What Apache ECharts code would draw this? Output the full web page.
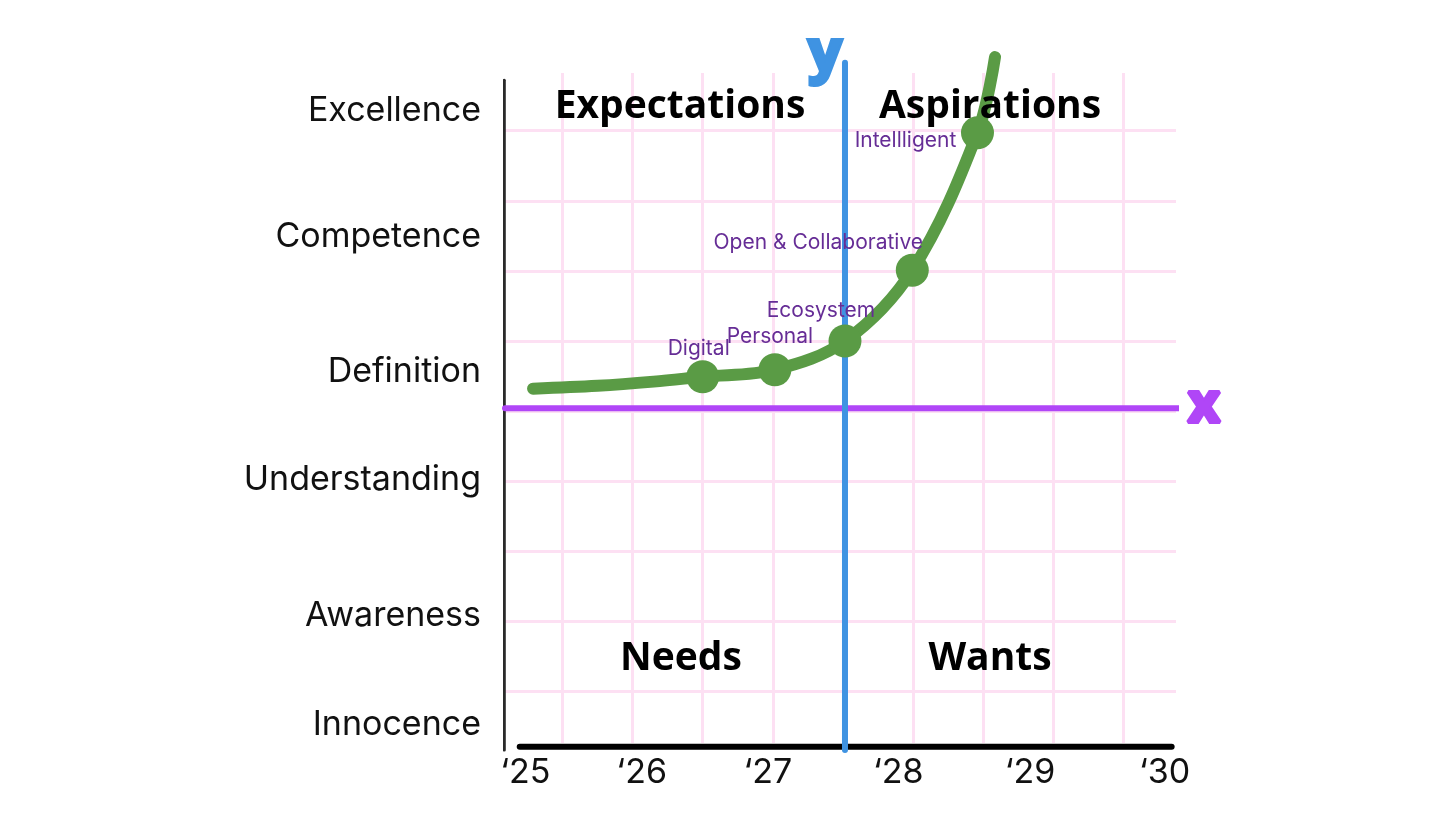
<!DOCTYPE html>
<html><head><meta charset="utf-8">
<script src="https://cdn.jsdelivr.net/npm/echarts@6/dist/echarts.min.js"></script>
<style>html,body{margin:0;padding:0;background:#fff}#c{width:1456px;height:819px}</style>
</head><body><div id="c"></div>
<script>
// Coordinate units: one pink grid cell = 1
const xTickLabels = ['\u201825','\u201826','\u201827','\u201828','\u201829','\u201830'];
const xTickValues = [0.47, 2.13, 3.93, 5.79, 7.67, 9.59];
const yTickLabels = ['Innocence','Awareness','Understanding','Definition','Competence','Excellence'];
const yTickValues = [0.53, 2.08, 4.02, 5.56, 7.48, 9.29];
const gridLinesX = [1,2,3,4,5,6,7,8,9];
const gridLinesY = [1,2,3,4,5,6,7,8,9];
const milestoneNames = ['Digital','Personal','Ecosystem','Open & Collaborative','Intellligent'];
const milestoneX = [3.0, 4.03, 5.03, 5.99, 6.92];
const milestoneY = [5.49, 5.59, 6.0, 7.01, 8.97];
const curveX = [0.58, 1.5, 2.3, 3.0, 4.03, 5.03, 5.99, 6.92, 7.17];
const curveY = [5.32, 5.36, 5.42, 5.49, 5.59, 6.0, 7.01, 8.97, 10.05];
const quadrantNames = ['Expectations','Aspirations','Needs','Wants'];
const originX = 5.03, originY = 5.04;
const xExtent = [0.18, 9.752];
const yExtent = [0.265, 9.823];
const verticalSpan = [0.165, 9.97];   // blue y-line
const horizontalSpan = [0.18, 9.91];  // purple x-line
const leftAxisSpan = [0.165, 9.72];
const bottomAxisSpan = [0.39, 9.69];
const leftAxisX = 0.17, bottomAxisY = 0.21;

// label layout (pixels, relative to marker centre)
const labelOffsets = [[-4,-28],[-5,-33],[-24,-30],[-94,-27],[-72,8]];

const FONT = 'Inter';
const chart = echarts.init(document.getElementById('c'), null, {renderer:'canvas'});

function nearestLabel(v, vals, labels){
  let bi = 0, bd = Infinity;
  vals.forEach((t,i)=>{const d=Math.abs(t-v); if(d<bd){bd=d;bi=i;}});
  return labels[bi];
}

const pink = '#fde0f3';
const lineSeries = (data, color, width, z) => ({
  type:'line', data, symbol:'none', clip:false, silent:true, z,
  lineStyle:{color, width, cap:'round'}
});

chart.setOption({
  animation:false,
  backgroundColor:'#ffffff',
  grid:{left:505, top:73, width:671, height:670},
  xAxis:{
    type:'value', min:xExtent[0], max:xExtent[1],
    axisLine:{show:false},
    axisTick:{show:false, customValues:gridLinesX},
    splitLine:{show:true, lineStyle:{color:pink, width:3}},
    axisLabel:{customValues:xTickValues, margin:13, color:'#111', fontSize:34, fontFamily:FONT,
      formatter:v=>nearestLabel(v, xTickValues, xTickLabels)}
  },
  yAxis:{
    type:'value', min:yExtent[0], max:yExtent[1],
    axisLine:{show:false},
    axisTick:{show:false, customValues:gridLinesY},
    splitLine:{show:true, lineStyle:{color:pink, width:3}},
    axisLabel:{customValues:yTickValues, margin:24, color:'#111', fontSize:34, fontFamily:FONT,
      formatter:v=>nearestLabel(v, yTickValues, yTickLabels)}
  },
  series:[
    lineSeries([[leftAxisX, leftAxisSpan[0]],[leftAxisX, leftAxisSpan[1]]], '#2a2a2a', 3, 2),
    lineSeries([[bottomAxisSpan[0], bottomAxisY],[bottomAxisSpan[1], bottomAxisY]], '#000000', 6, 2),
    lineSeries([[horizontalSpan[0], originY],[horizontalSpan[1], originY]], '#b046f7', 6, 3),
    lineSeries([[originX, verticalSpan[0]],[originX, verticalSpan[1]]], '#3f93e2', 6, 3),
    {
      type:'line', smooth:0.35, symbol:'none', clip:false, silent:true, z:5,
      data: curveX.map((x,i)=>[x, curveY[i]]),
      lineStyle:{color:'#5a9b45', width:12, cap:'round'}
    },
    {
      type:'scatter', z:6, clip:false, silent:true,
      symbolSize:33, itemStyle:{color:'#5a9b45', opacity:1},
      data: milestoneX.map((x,i)=>({
        value:[x, milestoneY[i]], name:milestoneNames[i],
        label:{offset:labelOffsets[i]}
      })),
      label:{show:true, position:'inside', formatter:p=>p.name,
        color:'#662d96', fontSize:21, fontFamily:FONT}
    }
  ],
  graphic:[
    {type:'text', x:680, y:107, z:10, style:{text:quadrantNames[0], font:'bold 39px "Open Sans"', fill:'#000', align:'center', verticalAlign:'middle'}},
    {type:'text', x:990, y:107, z:10, style:{text:quadrantNames[1], font:'bold 39px "Open Sans"', fill:'#000', align:'center', verticalAlign:'middle'}},
    {type:'text', x:681, y:659, z:10, style:{text:quadrantNames[2], font:'bold 39px "Open Sans"', fill:'#000', align:'center', verticalAlign:'middle'}},
    {type:'text', x:990, y:659, z:10, style:{text:quadrantNames[3], font:'bold 39px "Open Sans"', fill:'#000', align:'center', verticalAlign:'middle'}},
    {type:'text', x:825, y:54, z:10, style:{text:'y', font:'bold 58px "Open Sans"', fill:'#3f93e2', stroke:'#3f93e2', lineWidth:4, lineJoin:'round', align:'center', verticalAlign:'middle'}},
    {type:'text', x:1204, y:406, z:10, style:{text:'x', font:'bold 56px "Open Sans"', fill:'#b046f7', stroke:'#b046f7', lineWidth:4, lineJoin:'round', align:'center', verticalAlign:'middle'}}
  ]
});
</script></body></html>
